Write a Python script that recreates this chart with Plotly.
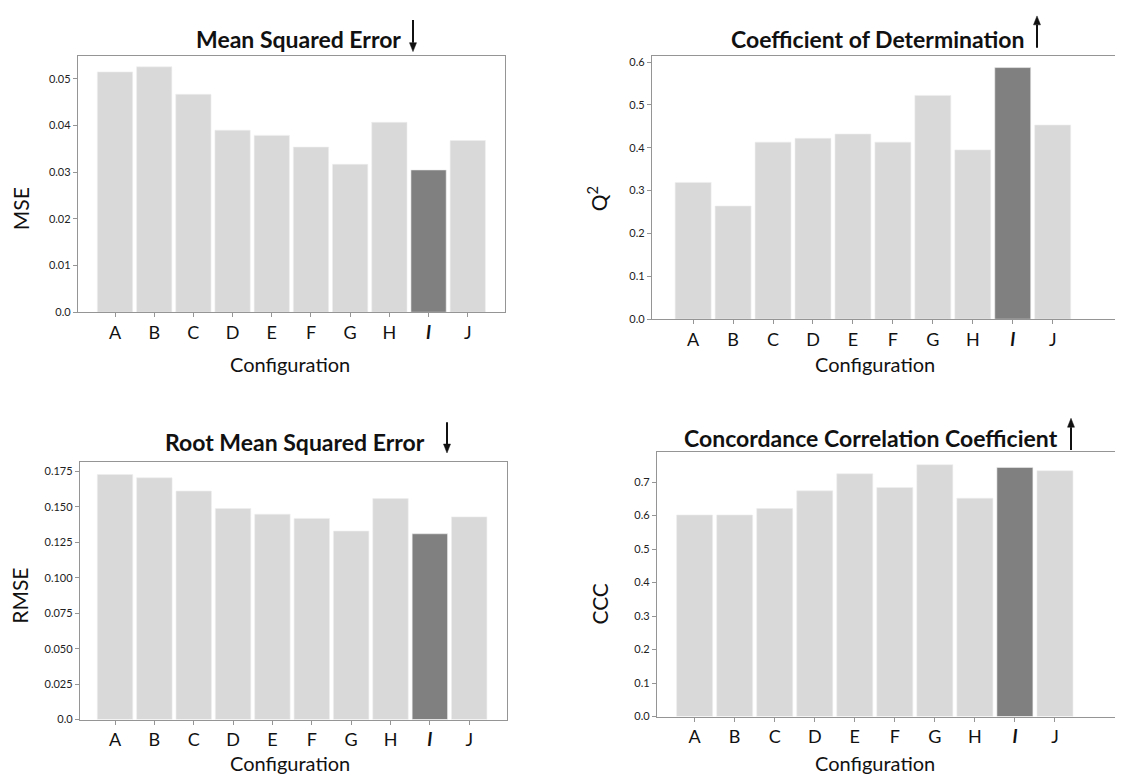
import plotly.graph_objects as go

categories = ["A", "B", "C", "D", "E", "F", "G", "H", "I", "J"]
tick_labels = ["A", "B", "C", "D", "E", "F", "G", "H", "<b><i>I</i></b>", "J"]
highlight = "I"

mse = [0.0515, 0.0526, 0.0467, 0.0390, 0.0379, 0.0354, 0.0317, 0.0407, 0.0305, 0.0368]
q2 = [0.319, 0.264, 0.413, 0.422, 0.432, 0.413, 0.522, 0.395, 0.587, 0.453]
rmse = [0.1729, 0.1706, 0.1612, 0.1489, 0.1449, 0.1419, 0.1330, 0.1559, 0.1311, 0.1430]
ccc = [0.602, 0.602, 0.621, 0.674, 0.725, 0.684, 0.752, 0.652, 0.744, 0.734]

mse_ticks = [0.0, 0.01, 0.02, 0.03, 0.04, 0.05]
mse_ticktext = ["0.0", "0.01", "0.02", "0.03", "0.04", "0.05"]
q2_ticks = [0.0, 0.1, 0.2, 0.3, 0.4, 0.5, 0.6]
q2_ticktext = ["0.0", "0.1", "0.2", "0.3", "0.4", "0.5", "0.6"]
rmse_ticks = [0.0, 0.025, 0.05, 0.075, 0.1, 0.125, 0.15, 0.175]
rmse_ticktext = ["0.0", "0.025", "0.050", "0.075", "0.100", "0.125", "0.150", "0.175"]
ccc_ticks = [0.0, 0.1, 0.2, 0.3, 0.4, 0.5, 0.6, 0.7]
ccc_ticktext = ["0.0", "0.1", "0.2", "0.3", "0.4", "0.5", "0.6", "0.7"]

W, H = 1123, 779
OFF_X, OFF_Y = 8, 5  # page offset: screen pixel = figure pixel + offset
LIGHT = "#d9d9d9"
DARK = "#808080"
SPINE = "#959595"
FONT = "Lato"


def px(x):
    return (x - OFF_X) / W


def py(y):
    return 1 - (y - OFF_Y) / H


panels = [
    dict(vals=mse, title="Mean Squared Error", ytitle="MSE", ticks=mse_ticks, ttext=mse_ticktext,
         yr=[0, 0.055], xd=(78, 505), yd=(52, 311), xr=[-0.944, 9.95],
         tpos=(298, 35), ypos=(20, 207), xpos=(290, 363), arrow=(413, 48, 16), mirror=True),
    dict(vals=q2, title="Coefficient of Determination", ytitle="Q<sup>2</sup>", ticks=q2_ticks, ttext=q2_ticktext,
         yr=[0, 0.615], xd=(652, 1123), yd=(52, 318), xr=[-1.03, 10.76],
         tpos=(877, 35), ypos=(597, 197), xpos=(875, 363), arrow=(1037, 12, 44), mirror=False),
    dict(vals=rmse, title="Root Mean Squared Error", ytitle="RMSE", ticks=rmse_ticks, ttext=rmse_ticktext,
         yr=[0, 0.1818], xd=(80, 507), yd=(462, 722), xr=[-0.89, 9.96],
         tpos=(295, 442), ypos=(20, 597), xpos=(290, 766), arrow=(447, 453, 422), mirror=True),
    dict(vals=ccc, title="Concordance Correlation Coefficient", ytitle="CCC", ticks=ccc_ticks, ttext=ccc_ticktext,
         yr=[0, 0.79], xd=(657, 1123), yd=(452, 719), xr=[-0.94, 10.70],
         tpos=(871, 438), ypos=(600, 605), xpos=(875, 766), arrow=(1071, 418, 450), mirror=False),
]

fig = go.Figure()
annotations = []
shapes = []
layout = {}

for i, p in enumerate(panels, start=1):
    sfx = "" if i == 1 else str(i)
    colors = [DARK if c == highlight else LIGHT for c in categories]
    fig.add_trace(go.Bar(
        x=categories, y=p["vals"], marker=dict(color=colors, line=dict(color="#eeeeee", width=0.6)),
        width=0.9, xaxis="x" + sfx, yaxis="y" + sfx, showlegend=False, hoverinfo="x+y",
    ))
    layout["xaxis" + sfx] = dict(
        domain=[px(p["xd"][0]), px(p["xd"][1])], anchor="y" + sfx, range=p["xr"],
        type="category", tickvals=categories, ticktext=tick_labels,
        showline=True, linecolor=SPINE, linewidth=1.3, mirror=True,
        ticks="outside", ticklen=4, tickcolor=SPINE, tickwidth=1,
        showgrid=False, zeroline=False, fixedrange=True,
        tickfont=dict(family=FONT, size=18, color="#111111"),
    )
    layout["yaxis" + sfx] = dict(
        domain=[py(p["yd"][1]), py(p["yd"][0])], anchor="x" + sfx, range=p["yr"],
        tickvals=p["ticks"], ticktext=p["ttext"],
        showline=True, linecolor=SPINE, linewidth=1.3, mirror=p["mirror"],
        ticks="outside", ticklen=4, tickcolor=SPINE, tickwidth=1,
        showgrid=False, zeroline=False, fixedrange=True,
        tickfont=dict(family=FONT, size=11, color="#222222"),
    )
    annotations.append(dict(
        text="<b>%s</b>" % p["title"], x=px(p["tpos"][0]), y=py(p["tpos"][1]),
        xref="paper", yref="paper", showarrow=False, xanchor="center", yanchor="middle",
        font=dict(family=FONT, size=23, color="#111111"),
    ))
    annotations.append(dict(
        text=p["ytitle"], x=px(p["ypos"][0]), y=py(p["ypos"][1]), textangle=-90,
        xref="paper", yref="paper", showarrow=False, xanchor="center", yanchor="middle",
        font=dict(family=FONT, size=21, color="#111111"),
    ))
    annotations.append(dict(
        text="Configuration", x=px(p["xpos"][0]), y=py(p["xpos"][1]),
        xref="paper", yref="paper", showarrow=False, xanchor="center", yanchor="middle",
        font=dict(family=FONT, size=20, color="#111111"),
    ))
    # direction arrow: shaft + filled head
    ax_, tip, tail = p["arrow"]
    d = 1 if tail > tip else -1  # +1: arrow points up (tail below tip)
    head_len, head_half = 9, 3.5
    base = tip + d * head_len
    shapes.append(dict(type="line", xref="paper", yref="paper",
                       x0=px(ax_), x1=px(ax_), y0=py(tail), y1=py(base),
                       line=dict(color="#111111", width=2)))
    path = "M %f %f L %f %f L %f %f Z" % (
        px(ax_), py(tip), px(ax_ - head_half), py(base), px(ax_ + head_half), py(base))
    shapes.append(dict(type="path", xref="paper", yref="paper", path=path,
                       fillcolor="#111111", line=dict(color="#111111", width=0.5)))

fig.update_layout(
    width=W, height=H, margin=dict(l=0, r=0, t=0, b=0),
    paper_bgcolor="white", plot_bgcolor="white",
    bargap=0.1, annotations=annotations, shapes=shapes, **layout,
)

fig.write_html("out.html")
